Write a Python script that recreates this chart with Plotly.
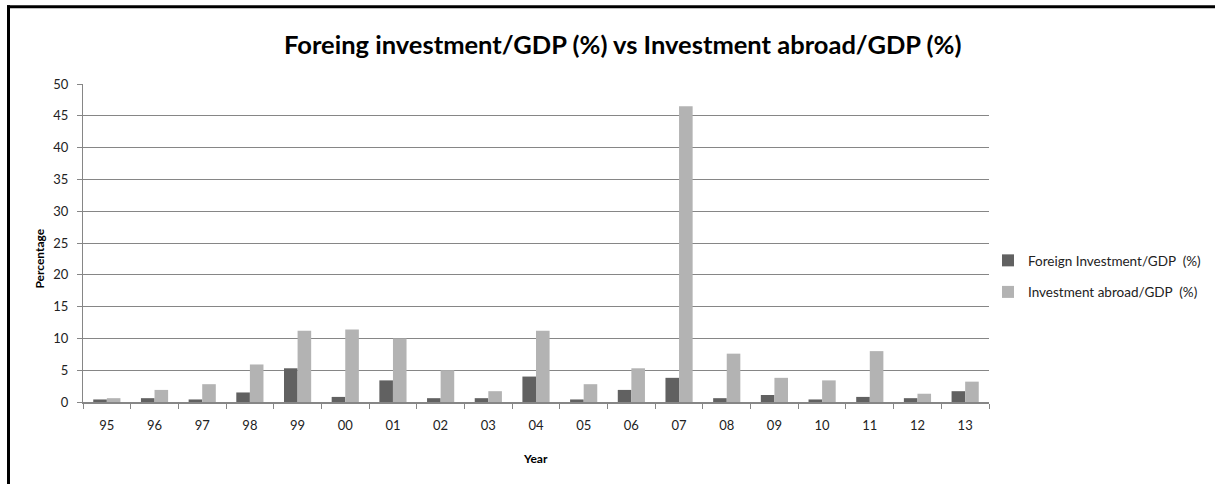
import plotly.graph_objects as go

years = ["95", "96", "97", "98", "99", "00", "01", "02", "03", "04",
         "05", "06", "07", "08", "09", "10", "11", "12", "13"]
foreign_inv = [0.4, 0.6, 0.4, 1.5, 5.3, 0.8, 3.4, 0.6, 0.6, 4.0,
               0.4, 1.9, 3.8, 0.6, 1.1, 0.4, 0.8, 0.6, 1.7]
inv_abroad = [0.6, 1.9, 2.8, 5.9, 11.2, 11.4, 10.0, 5.0, 1.7, 11.2,
              2.8, 5.3, 46.5, 7.6, 3.8, 3.4, 8.0, 1.3, 3.2]

FONT = "Lato, sans-serif"

W, H = 1220, 484
L, R = 83, 989
T, B = 84.3, 402.5


def px_x(p):
    return (p - L) / (R - L)


def px_y(p):
    return (B - p) / (B - T)


fig = go.Figure()
fig.add_trace(go.Bar(x=years, y=foreign_inv, name="Foreign Investment/GDP  (%)",
                     legendgroup="a",
                     marker=dict(color="#616161", line=dict(width=0))))
fig.add_trace(go.Bar(x=years, y=inv_abroad, name="Investment abroad/GDP  (%)",
                     legendgroup="b",
                     marker=dict(color="#b3b3b3", line=dict(width=0))))

fig.update_layout(
    width=W, height=H,
    margin=dict(l=L, r=W - R, t=T, b=H - B, pad=0),
    paper_bgcolor="white", plot_bgcolor="white",
    barmode="group", bargap=0.43, bargroupgap=0,
    font=dict(family=FONT, size=13, color="#222"),
    showlegend=True,
    legend=dict(x=px_x(988), y=px_y(277), xanchor="left", yanchor="middle",
                font=dict(family=FONT, size=13.5, color="#222"),
                traceorder="grouped", tracegroupgap=11, itemwidth=30,
                bgcolor="rgba(0,0,0,0)"),
)
fig.update_xaxes(type="category", tickson="boundaries", ticks="outside", ticklen=5,
                 tickcolor="#868686", showline=True, linecolor="#868686", linewidth=2,
                 showgrid=False, ticklabelstandoff=10,
                 tickfont=dict(family=FONT, size=13, color="#222"))
fig.update_yaxes(range=[0, 50], dtick=5, ticks="outside", ticklen=5, tickcolor="#868686",
                 showline=True, linecolor="#868686", linewidth=1,
                 showgrid=True, gridcolor="#868686", gridwidth=1, zeroline=False,
                 ticklabelstandoff=6,
                 tickfont=dict(family=FONT, size=13, color="#222"))

fig.add_annotation(text="<b>Foreing investment/GDP (%) vs Investment abroad/GDP (%)</b>",
                   xref="paper", yref="paper", x=px_x(623), y=px_y(44),
                   xanchor="center", yanchor="middle", showarrow=False,
                   font=dict(family=FONT, size=25.5, color="#000"))
fig.add_annotation(text="<b>Percentage</b>", xref="paper", yref="paper",
                   x=px_x(40), y=px_y(259), xanchor="center", yanchor="middle",
                   textangle=-90, showarrow=False,
                   font=dict(family=FONT, size=12, color="#000"))
fig.add_annotation(text="<b>Year</b>", xref="paper", yref="paper",
                   x=px_x(535), y=px_y(459), xanchor="center", yanchor="middle",
                   showarrow=False, font=dict(family=FONT, size=12, color="#000"))

# outer frame: top and left edges only (the rest is cut off in the original)
fig.add_shape(type="line", xref="paper", yref="paper",
              x0=px_x(7), x1=px_x(1215), y0=px_y(7), y1=px_y(7),
              line=dict(color="black", width=3), layer="above")
fig.add_shape(type="line", xref="paper", yref="paper",
              x0=px_x(8.5), x1=px_x(8.5), y0=px_y(5.5), y1=px_y(500),
              line=dict(color="black", width=3), layer="above")

fig.write_html("out.html", config={"displayModeBar": False},
               post_script="document.body.style.margin='0';document.body.style.overflow='hidden';")
